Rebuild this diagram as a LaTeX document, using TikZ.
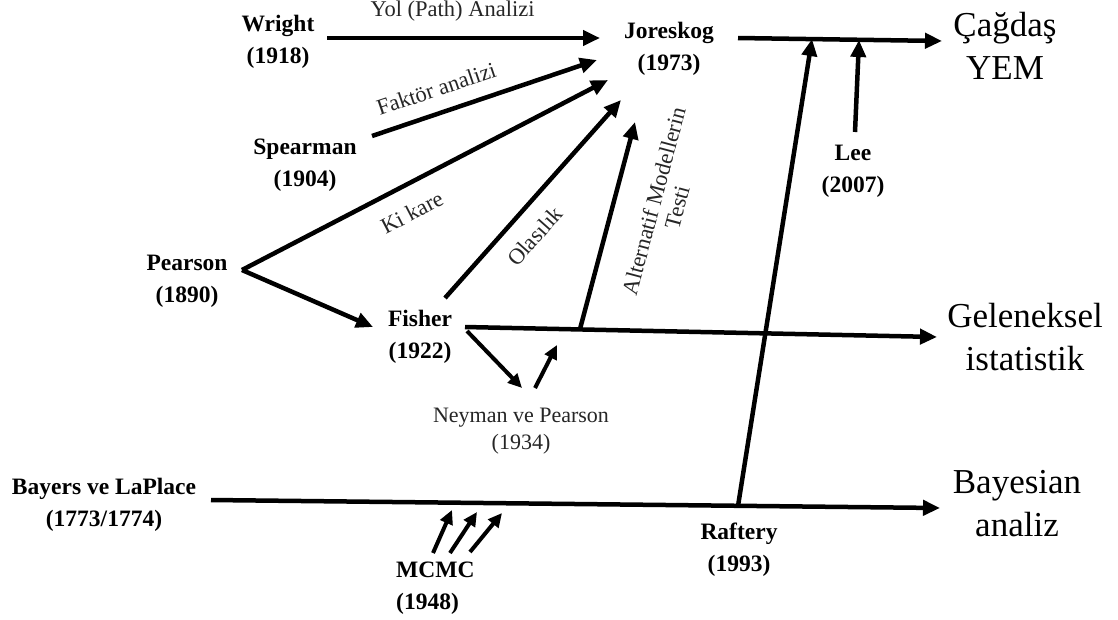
\documentclass[tikz,border=0pt]{standalone}
\usepackage{fontspec}
\setmainfont{Liberation Serif}
\usetikzlibrary{arrows.meta}
\begin{document}
\begin{tikzpicture}[x=1pt,y=-1pt,
  person/.style={font=\fontsize{23.5}{32}\selectfont\bfseries, align=center, inner sep=0pt},
  field/.style={font=\fontsize{35}{43}\selectfont, align=center, inner sep=0pt},
  note/.style={font=\fontsize{22.5}{27}\selectfont, inner sep=3pt, text=black!85},
  link/.style={line width=4.5pt, -{Triangle[length=17pt,width=15pt]}},
  small link/.style={line width=4pt, -{Triangle[length=14pt,width=13pt]}},
]
\useasboundingbox[fill=white] (0,0) rectangle (1118,619);

% people and years
\node[person] (wright)   at (278,42)  {Wright\\(1918)};
\node[person] (joreskog) at (669,49)  {Joreskog\\(1973)};
\node[person] (spearman) at (305,165) {Spearman\\(1904)};
\node[person] (pearson)  at (187,281) {Pearson\\(1890)};
\node[person] (fisher)   at (420,337) {Fisher\\(1922)};
\node[person] (lee)      at (853,171) {Lee\\(2007)};
\node[person] (raftery)  at (739,550) {Raftery\\(1993)};
\node[person] (bayes)    at (104,505) {Bayers ve LaPlace\\(1773/1774)};
\node[person, align=left, anchor=west] (mcmc) at (396,588) {MCMC\\(1948)};
\node[note, align=center, inner sep=0pt, font=\fontsize{22}{27}\selectfont] (neyman) at (521,431) {Neyman ve Pearson\\(1934)};

% traditions on the right
\node[field] (yem)   at (1005,46)  {Çağdaş\\YEM};
\node[field] (gelen) at (1025,337) {Geleneksel\\istatistik};
\node[field] (bayan) at (1017,504) {Bayesian\\analiz};

% connector end points
\coordinate (wr-s) at (327,38);   \coordinate (wr-e) at (600,38);
\coordinate (sp-s) at (372,136);  \coordinate (sp-e) at (597,60);
\coordinate (pe-c) at (242,270);  \coordinate (ki-e) at (608,80);
\coordinate (fi-in) at (373,327);
\coordinate (fi-o) at (445,298);  \coordinate (ol-e) at (621,100);
\coordinate (al-s) at (580,329);  \coordinate (al-e) at (635,122);
\coordinate (fi-r) at (465,327);  \coordinate (ge-e) at (937,337);
\coordinate (fi-d) at (467,331);  \coordinate (ne-in) at (522,388);
\coordinate (ne-o) at (535,388);  \coordinate (ne-up) at (557,345);
\coordinate (ba-s) at (211,500);  \coordinate (ba-e) at (940,508);
\coordinate (ra-s) at (738,506);  \coordinate (ra-e) at (812,39);
\coordinate (jo-r) at (738,38);   \coordinate (ca-e) at (942,41);
\coordinate (lee-s) at (855,132); \coordinate (lee-e) at (859,40);
\coordinate (mc1-s) at (433,553); \coordinate (mc1-e) at (452,510);
\coordinate (mc2-s) at (450,553); \coordinate (mc2-e) at (477,512);
\coordinate (mc3-s) at (470,552); \coordinate (mc3-e) at (502,513);

% influences towards Joreskog
\draw[link] (wr-s) -- node[note, above=11pt, pos=0.46] {Yol (Path) Analizi} (wr-e);
\draw[link] (sp-s) -- node[note, sloped, above=11pt, pos=0.32] {Faktör analizi} (sp-e);
\draw[link] (pe-c) -- node[note, sloped, below=14pt, pos=0.43] {Ki kare} (ki-e);
\draw[link] (pe-c) -- (fi-in);
\draw[link] (fi-o) -- node[note, sloped, below=13pt, pos=0.40] {Olasılık} (ol-e);
\draw[link] (al-s) -- node[note, sloped, below=25pt, pos=0.665, align=center, font=\fontsize{22.5}{24}\selectfont] {Alternatif Modellerin\\Testi} (al-e);

% classical statistics line
\draw[link] (fi-r) -- (ge-e);
\draw[small link] (fi-d) -- (ne-in);
\draw[small link] (ne-o) -- (ne-up);

% Bayesian line and the links that leave or join it
\draw[link] (ba-s) -- (ba-e);
\draw[link] (ra-s) -- (ra-e);
\draw[link] (jo-r) -- (ca-e);
\draw[link] (lee-s) -- (lee-e);
\draw[small link] (mc1-s) -- (mc1-e);
\draw[small link] (mc2-s) -- (mc2-e);
\draw[small link] (mc3-s) -- (mc3-e);
\end{tikzpicture}
\end{document}
